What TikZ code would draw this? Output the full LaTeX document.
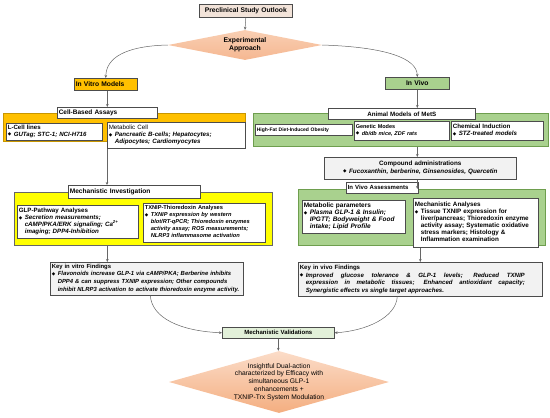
\documentclass[tikz,border=0pt]{standalone}
\usepackage{fontspec}
\usepackage{array}
\setmainfont{Liberation Sans}
\newfontfamily\djf{DejaVu Sans}
\usetikzlibrary{shapes.geometric,arrows.meta}
\definecolor{gold}{HTML}{FFC000}
\definecolor{golddk}{HTML}{C89600}
\definecolor{gnf}{HTML}{A9D18E}
\definecolor{gnd}{HTML}{6E9E4E}
\definecolor{lgn}{HTML}{E2F0D9}
\definecolor{peach}{HTML}{F2E3D9}
\definecolor{grayf}{HTML}{F2F2F2}
\definecolor{ylw}{HTML}{FFFF00}
\definecolor{sal1}{HTML}{FBDCC8}
\definecolor{sal2}{HTML}{F4AE80}
\definecolor{sal3}{HTML}{F9CFB3}
\definecolor{sal4}{HTML}{F5B791}
\newcommand\bulsym{\makebox[6pt][l]{\raisebox{0.4pt}{\djf\fontsize{4.5}{4.5}\selectfont ◆}}}
\newcommand\bl[1]{\mbox{\bulsym\begin{tabular}[t]{@{}>{\bfseries\itshape}l@{}}#1\end{tabular}}}
\newcommand\blb[1]{\mbox{\bulsym\begin{tabular}[t]{@{}>{\bfseries}l@{}}#1\end{tabular}}}
\newcommand\blj[2]{\mbox{\bulsym\parbox[t]{#1}{\fontsize{6.1}{7.7}\selectfont\bfseries\itshape
  \spaceskip=0pt\relax\xspaceskip=0pt\relax\rightskip=0pt\relax\leftskip=0pt\relax\tolerance=10000\relax\hbadness=10000\relax #2}}}
\begin{document}
\begin{tikzpicture}[x=1pt,y=-1pt,
  box/.style={draw=black!70, line width=0.6pt, fill=white, inner sep=1.5pt,
    anchor=north west, align=left},
  fs/.style 2 args={font=\fontsize{#1}{#2}\selectfont\bfseries},
  panel/.style={line width=0.6pt, anchor=north west, inner sep=0pt},
  arr/.style={-{Stealth[length=3pt,width=2.6pt]}, draw=black!60, line width=0.5pt}]
\useasboundingbox (0,0) rectangle (550,418);

% top
\node[box, fs={6.7}{8}, fill=peach, minimum width=93pt, minimum height=13pt, align=center, text width=90pt] (pre) at (199,4) {Preclinical Study Outlook};
\node[diamond, shape aspect=5, inner sep=-4pt, minimum width=154pt, minimum height=30pt,
  top color=sal3, bottom color=sal4, draw=none, align=center, fs={6.8}{8}] (d1) at (245,45) {Experimental\\Approach};
\draw[arr] (pre.south) -- (d1.north);

% ---------- left column ----------
\node[box, fs={6.7}{8}, fill=gold, minimum width=63pt, minimum height=12pt, text width=60pt] (vitro) at (74,78) {In Vitro Models};
\node[panel, fill=gold, draw=golddk, minimum width=242pt, minimum height=28pt] (opanel) at (3,113) {};
\node[box, fs={6.5}{8}, minimum width=100pt, minimum height=11pt, text width=97pt] (cba) at (57,107) {Cell-Based Assays};
\node[box, fs={6.1}{7}, minimum width=96pt, minimum height=15pt, text width=93pt] (lcell) at (6,123) {L-Cell lines\\\bl{GUTag; STC-1; NCI-H716}};
\node[box, fs={6.2}{7}, minimum width=138pt, minimum height=26pt, text width=135pt] (metab) at (107,122) {{\mdseries Metabolic Cell}\\\bl{Pancreatic B-cells; Hepatocytes;\\Adipocytes; Cardiomyocytes}};

\node[panel, fill=ylw, draw=black!60, minimum width=258pt, minimum height=53pt] (ypanel) at (14,192) {};
\node[box, fs={6.6}{8}, minimum width=132pt, minimum height=13pt, text width=129pt] (mi) at (68,185) {Mechanistic Investigation};
\node[box, fs={6.2}{7}, minimum width=121pt, minimum height=33pt, text width=118pt] (glp) at (17,205) {GLP-Pathway Analyses\\\bl{Secretion measurements;\\cAMP/PKA/ERK signaling; Ca\smash{\textsuperscript{2+}}\\imaging; DPP4-Inhibition}};
\node[box, fs={5.7}{7}, minimum width=122pt, minimum height=39pt, text width=119pt] (txnip) at (143,203) {TXNIP-Thioredoxin Analyses\\\bl{TXNIP expression by western\\blot/RT-qPCR; Thioredoxin enzymes\\activity assay; ROS measurements;\\NLRP3 inflammasome activation}};

\node[box, fs={5.9}{7.8}, fill=grayf, minimum width=193pt, minimum height=33pt, text width=190pt] (kvitro) at (50,262) {Key in vitro Findings\\\bl{Flavonoids increase GLP-1 via cAMP/PKA; Berberine inhibits\\DPP4 \& can suppress TXNIP expression; Other compounds\\inhibit NLRP3 activation to activate thioredoxin enzyme activity.}};

% ---------- right column ----------
\node[box, fs={6.8}{8}, fill=gnf, minimum width=64pt, minimum height=12pt, align=center, text width=61pt] (invivo) at (385,77) {In Vivo};
\node[panel, fill=gnf, draw=gnd, minimum width=295pt, minimum height=33pt] (gpanel1) at (253,113) {};
\node[box, fs={6.2}{8}, minimum width=147pt, minimum height=11pt, align=center, text width=144pt] (am) at (328,108) {Animal Models of MetS};
\node[box, fs={5}{6}, minimum width=97pt, minimum height=11pt, text width=94pt] (hf) at (255,124) {High-Fat Diet-Induced Obesity};
\node[box, fs={5.5}{6.8}, minimum width=95pt, minimum height=19pt, text width=92pt] (gen) at (354,121) {Genetic Modes\\\bl{db/db mice, ZDF rats}};
\node[box, fs={6.2}{7.2}, minimum width=92pt, minimum height=19pt, text width=89pt] (chem) at (451,121) {Chemical Induction\\\bl{STZ-treated models}};

\node[box, fs={6.3}{8}, fill=grayf, minimum width=192pt, minimum height=22pt, align=center, text width=189pt] (comp) at (324,157) {Compound administrations\\\bl{Fucoxanthin, berberine, Ginsenosides, Quercetin}};

\node[panel, fill=gnf, draw=gnd, minimum width=247pt, minimum height=56pt] (gpanel2) at (298,189) {};
\node[box, fs={6}{8}, minimum width=72pt, minimum height=11pt, text width=69pt] (iva) at (346,182) {In Vivo Assessments};
\node[box, fs={6.5}{7}, minimum width=103pt, minimum height=33pt, text width=100pt] (mp) at (302,200) {Metabolic parameters\\\bl{Plasma GLP-1 \& Insulin;\\IPGTT; Bodyweight \& Food\\intake; Lipid Profile}};
\node[box, fs={6.3}{7}, minimum width=125pt, minimum height=49pt, text width=122pt] (ma) at (413,198) {Mechanistic Analyses\\\blb{Tissue TXNIP expression for\\liver/pancreas; Thioredoxin enzyme\\activity assay; Systematic oxidative\\stress markers; Histology \&\\Inflammation examination}};

\node[box, fs={6.1}{7.7}, fill=grayf, minimum width=244pt, minimum height=34pt, text width=241pt] (kvivo) at (298,262) {Key in vivo Findings\\\blj{219pt}{Improved glucose tolerance \& GLP-1 levels; Reduced TXNIP\linebreak expression in metabolic tissues; Enhanced antioxidant capacity;\linebreak Synergistic effects vs single target approaches.}};

% ---------- bottom ----------
\node[box, fs={6}{8}, fill=lgn, minimum width=112pt, minimum height=11pt, align=center, text width=109pt] (mv) at (222,327) {Mechanistic Validations};
\node[diamond, shape aspect=3.5, inner sep=-14pt, minimum width=220pt, minimum height=62pt,
  top color=sal1, bottom color=sal2, draw=none, align=center, font=\fontsize{6.7}{7.8}\selectfont] (d2) at (279,382)
  {Insightful Dual-action\\characterized by Efficacy with\\simultaneous GLP-1\\enhancements +\\TXNIP-Trx System Modulation};

% ---------- connectors ----------
\draw[arr] (d1.west) .. controls (125,46) and (106,58) .. (vitro.north);
\draw[arr] (d1.east) .. controls (385,47) and (417,58) .. (invivo.north);
\draw[arr] (vitro.south -| cba.north) -- (cba.north);
\draw[arr] (metab.south west) -- (metab.south west |- mi.north);
\draw[arr] (ypanel.south -| cba.south) -- (kvitro.north -| cba.south);
\draw[arr] (invivo.south) -- (invivo.south |- am.north);
\draw[arr] (gpanel1.south -| invivo.south) -- (comp.north -| invivo.south);
\draw[arr] (comp.south -| invivo.south) -- (gpanel2.north -| invivo.south);
\draw[arr] (ma.south -| kvivo.north) -- (kvivo.north);
\draw[arr] ([xshift=3.5pt]kvitro.south) .. controls (152,318) and (180,331) .. (mv.west);
\draw[arr] ([xshift=-23pt]kvivo.south) .. controls (396,318) and (365,331) .. (mv.east);
\draw[arr] (mv.south) -- (mv.south |- d2.north);
\end{tikzpicture}
\end{document}
